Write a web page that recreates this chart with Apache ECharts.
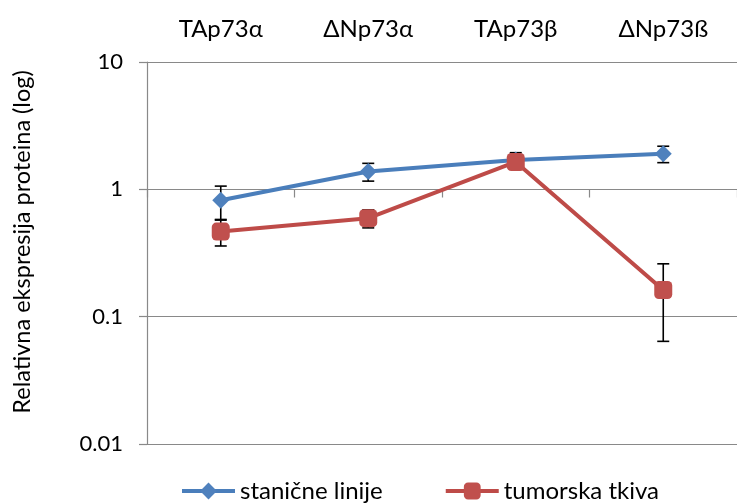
<!DOCTYPE html>
<html><head><meta charset="utf-8">
<script src="https://cdn.jsdelivr.net/npm/echarts@6/dist/echarts.min.js"></script>
<style>html,body{margin:0;padding:0;background:#fff}#c{width:737px;height:503px}</style>
</head><body><div id="c"></div>
<script>
var categories = ['TAp73\u03b1', '\u0394Np73\u03b1', 'TAp73\u03b2', '\u0394Np73\u00df'];
var seriesNames = ['stani\u010dne linije', 'tumorska tkiva'];
var cellLines = [0.82, 1.38, 1.70, 1.90];
var cellLinesErr = [0.24, 0.22, 0.24, 0.28];
var tumours = [0.466, 0.594, 1.64, 0.162];
var tumoursErr = [0.107, 0.096, 0.10, 0.098];
var yTicks = [0.01, 0.1, 1, 10];

var FONT = 'Lato, "Open Sans", sans-serif';
var chart = echarts.init(document.getElementById('c'), null, {renderer: 'canvas'});

function errData(vals, errs) {
  return vals.map(function (v, i) { return [i, v - errs[i], v + errs[i]]; });
}
function errRender(params, api) {
  var i = api.value(0);
  var lo = api.coord([i, api.value(1)]);
  var hi = api.coord([i, api.value(2)]);
  var w = 6;
  var st = {stroke: '#000', lineWidth: 1.6};
  return {type: 'group', children: [
    {type: 'line', shape: {x1: lo[0], y1: lo[1], x2: hi[0], y2: hi[1]}, style: st},
    {type: 'line', shape: {x1: lo[0] - w, y1: lo[1], x2: lo[0] + w, y2: lo[1]}, style: st},
    {type: 'line', shape: {x1: hi[0] - w, y1: hi[1], x2: hi[0] + w, y2: hi[1]}, style: st}
  ]};
}

chart.setOption({
  animation: false,
  grid: {left: 147, top: 62, right: -6, bottom: 59, containLabel: false},
  xAxis: [{
    type: 'category', data: categories, position: 'top', boundaryGap: true,
    axisLine: {show: false}, axisTick: {show: false},
    axisLabel: {color: '#000', fontFamily: FONT, fontSize: 24, margin: 21}
  }, {
    type: 'category', data: categories, position: 'bottom', offset: -254.5, boundaryGap: true,
    axisLine: {show: true, lineStyle: {color: '#898989', width: 1.2}},
    axisTick: {show: true, length: 8, lineStyle: {color: '#898989', width: 1.2}},
    axisLabel: {show: false}
  }],
  yAxis: {
    type: 'log', logBase: 10, min: yTicks[0], max: yTicks[yTicks.length - 1],
    axisLine: {show: true, lineStyle: {color: '#898989', width: 1.2}},
    axisTick: {show: true, length: 8, lineStyle: {color: '#898989', width: 1.2}},
    splitLine: {show: true, lineStyle: {color: '#898989', width: 1.2}},
    axisLabel: {color: '#000', fontFamily: FONT, fontSize: 22, margin: 24,
      formatter: function (v) { return String(+v.toPrecision(3)); }}
  },
  legend: {
    left: 175, top: 474, itemGap: 61, itemWidth: 53, itemHeight: 21,
    textStyle: {color: '#000', fontFamily: FONT, fontSize: 24},
    lineStyle: {width: 4},
    data: seriesNames
  },
  graphic: [{
    type: 'text', rotation: Math.PI / 2,
    x: 22, y: 242,
    style: {text: 'Relativna ekspresija proteina (log)', fill: '#000', font: '23.5px ' + FONT,
      textAlign: 'center', textVerticalAlign: 'middle'}
  }],
  series: [{
    type: 'custom', renderItem: errRender, data: errData(cellLines, cellLinesErr), z: 1, silent: true
  }, {
    type: 'custom', renderItem: errRender, data: errData(tumours, tumoursErr), z: 1, silent: true
  }, {
    name: seriesNames[0], type: 'line', data: cellLines, z: 3,
    symbol: 'diamond', symbolSize: 17,
    lineStyle: {color: '#4A7EBB', width: 4},
    itemStyle: {color: '#4F81BD'}
  }, {
    name: seriesNames[1], type: 'line', data: tumours, z: 4,
    symbol: 'roundRect', symbolSize: 18,
    lineStyle: {color: '#BE4B48', width: 4},
    itemStyle: {color: '#C0504D'}
  }]
});
</script>
</body></html>
